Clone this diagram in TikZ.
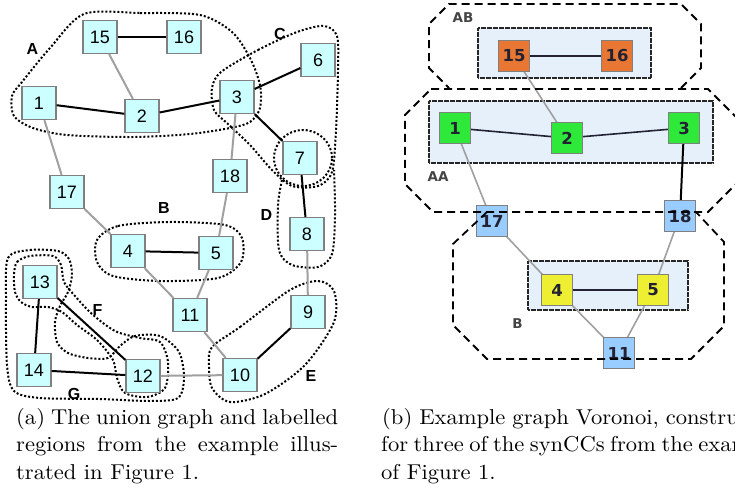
\documentclass[tikz,border=0pt]{standalone}
\usepackage{fontspec}
\newfontfamily\sansgraph{Liberation Sans}
\newfontfamily\dvsans{DejaVu Sans}
\newfontfamily\capfont{lmroman10-regular}[Extension=.otf, FakeStretch=1.05]
\definecolor{cyanfill}{HTML}{CCFFFF}
\definecolor{boxgray}{HTML}{808080}
\definecolor{edgegray}{HTML}{A0A0A0}
\definecolor{orangefill}{HTML}{E87734}
\definecolor{greenfill}{HTML}{2EE83A}
\definecolor{yellowfill}{HTML}{EEEE33}
\definecolor{bluefill}{HTML}{99CCFF}
\definecolor{panelfill}{HTML}{E6F0FB}
\definecolor{inkdark}{HTML}{222233}
\definecolor{labelgray}{HTML}{444444}
\tikzset{
  unode/.style={draw=boxgray, line width=1.3pt, fill=cyanfill, minimum width=34pt,
    minimum height=33pt, inner sep=0pt, font=\sansgraph\fontsize{18}{18}\selectfont},
  vnode/.style={draw=boxgray, line width=1pt, minimum size=31pt, inner sep=0pt,
    text=inkdark, font=\dvsans\bfseries\fontsize{16.5}{16.5}\selectfont},
  strong/.style={line width=2pt, black},
  weak/.style={line width=2pt, edgegray},
  vstrong/.style={line width=1.6pt, inkdark},
  vweak/.style={line width=1.6pt, edgegray},
  region/.style={line width=2pt, dash pattern=on 2pt off 2pt},
  regionlabel/.style={font=\sansgraph\bfseries\fontsize{16}{16}\selectfont, inner sep=0pt},
  celllabel/.style={font=\dvsans\bfseries\fontsize{13.5}{13.5}\selectfont, text=labelgray, inner sep=0pt},
  synbox/.style={fill=panelfill, draw=black!85, line width=1.6pt, dash pattern=on 0.7pt off 0.5pt},
  cell/.style={line width=1.8pt, dash pattern=on 8pt off 5pt},
  capline/.style={anchor=base west, inner sep=0pt, font=\capfont\fontsize{21.5}{26}\selectfont}
}
\begin{document}
\begin{tikzpicture}[x=1pt,y=-1pt]
\useasboundingbox (0,0) rectangle (735,487);

% ---------------- (a) union graph with labelled regions ----------------
% region outlines
\draw[region] plot[smooth cycle] coordinates {(84,14) (140,13) (200,15) (232,32) (250,58) (260,85)
  (260,108) (250,122) (230,128) (190,134) (133,137) (67,135) (33,128) (14,116) (12,96) (22,82) (50,48)};
\draw[region] plot[smooth cycle] coordinates {(221,72) (258,50) (297,32) (324,26) (337,36) (338,70)
  (336,130) (332,172) (318,186) (292,186) (272,170) (250,145) (228,124) (214,110) (212,88)};
\draw[region] (303,158) ellipse [x radius=29pt, y radius=28pt];
\draw[region] plot[smooth] coordinates {(282,180) (278,205) (279,250) (292,265) (318,267) (332,254)
  (335,215) (334,170)};
\draw[region] plot[smooth cycle] coordinates {(97,240) (118,226) (170,222) (225,225) (242,238)
  (241,262) (218,278) (160,281) (113,276) (97,262)};
\draw[region] plot[smooth cycle] coordinates {(212,347) (240,327) (290,290) (318,281) (334,291)
  (334,322) (305,365) (265,394) (230,402) (212,388) (209,365)};
% F: band along the edge 13--12
\draw[region] plot[smooth cycle] coordinates {(14,275) (17,262) (30,256) (53,256) (61,265) (64,282)
  (75,296) (92,314) (115,331) (140,338) (160,342) (168,362) (165,388) (147,397) (125,393)
  (117,378) (113,360) (97,340) (77,325) (62,312) (48,307) (32,307) (21,302) (15,292)};
% G: path 13--14--12
\draw[region] plot[smooth cycle] coordinates {(8,258) (30,250) (58,251) (69,259) (72,275) (68,292)
  (60,306) (55,322) (57,342) (68,353) (88,358) (108,358) (120,346) (135,336) (160,336) (179,352)
  (184,378) (178,398) (150,401) (100,399) (40,398) (14,391) (7,365) (6,300)};

% nodes
\node[unode] (u15) at (100,37) {15};
\node[unode] (u16) at (184,37) {16};
\node[unode] (u1) at (39,103) {1};
\node[unode] (u2) at (142,116) {2};
\node[unode] (u3) at (237,97) {3};
\node[unode] (u6) at (318,60) {6};
\node[unode] (u7) at (300,158) {7};
\node[unode] (u18) at (230,176) {18};
\node[unode] (u17) at (67,192) {17};
\node[unode] (u4) at (128,251) {4};
\node[unode] (u5) at (216,253) {5};
\node[unode] (u8) at (307,234) {8};
\node[unode] (u13) at (40,282) {13};
\node[unode] (u11) at (190,315) {11};
\node[unode] (u9) at (308,312) {9};
\node[unode] (u14) at (34,370) {14};
\node[unode] (u12) at (143,376) {12};
\node[unode] (u10) at (240,375) {10};

% edges
\draw[strong] (u15) -- (u16);
\draw[strong] (u1) -- (u2);
\draw[strong] (u2) -- (u3);
\draw[strong] (u3) -- (u6);
\draw[strong] (u3) -- (u7);
\draw[strong] (u7) -- (u8);
\draw[strong] (u4) -- (u5);
\draw[strong] (u13) -- (u14);
\draw[strong] (u13) -- (u12);
\draw[strong] (u14) -- (u12);
\draw[strong] (u9) -- (u10);
\draw[weak] (u15) -- (u2);
\draw[weak] (u1) -- (u17);
\draw[weak] (u17) -- (u4);
\draw[weak] (u3) -- (u18);
\draw[weak] (u18) -- (u5);
\draw[weak] (u4) -- (u11);
\draw[weak] (u5) -- (u11);
\draw[weak] (u11) -- (u10);
\draw[weak] (u8) -- (u9);
\draw[weak] (u12) -- (u10);

% region names
\node[regionlabel] (labA) at (32.5,48.5) {A};
\node[regionlabel] (labC) at (280,34) {C};
\node[regionlabel] (labB) at (164,207.5) {B};
\node[regionlabel] (labD) at (266.5,214.5) {D};
\node[regionlabel] (labF) at (97.5,309.5) {F};
\node[regionlabel] (labE) at (311,375.5) {E};
\node[regionlabel] (labG) at (74,394) {G};

% ---------------- (b) graph Voronoi of three synCCs ----------------
\draw[synbox] (478,28) rectangle (651,78);
\draw[synbox] (429,101) rectangle (713,163);
\draw[synbox] (528,261) rectangle (688,310);

\coordinate (p15) at (514,56);
\coordinate (p16) at (617,56);
\coordinate (p1) at (455,128);
\coordinate (p2) at (567,138);
\coordinate (p3) at (684,128);
\coordinate (p17) at (492,221);
\coordinate (p18) at (680,216);
\coordinate (p4) at (557,290);
\coordinate (p5) at (653,290);
\coordinate (p11) at (619,353);

\draw[vweak] (p15) -- (p2);
\draw[vweak] (p1) -- (p17);
\draw[vweak] (p17) -- (p4);
\draw[vweak] (p18) -- (p5);
\draw[vweak] (p4) -- (p11);
\draw[vweak] (p5) -- (p11);
\draw[vstrong] (p15) -- (p16);
\draw[vstrong] (p1) -- (p2);
\draw[vstrong] (p2) -- (p3);
\draw[vstrong] (p4) -- (p5);
\draw[line width=2pt, black] (p3) -- (p18);

\node[vnode, fill=orangefill] (v15) at (p15) {15};
\node[vnode, fill=orangefill] (v16) at (p16) {16};
\node[vnode, fill=greenfill] (v1) at (p1) {1};
\node[vnode, fill=greenfill] (v2) at (p2) {2};
\node[vnode, fill=greenfill] (v3) at (p3) {3};
\node[vnode, fill=bluefill] (v17) at (p17) {17};
\node[vnode, fill=bluefill] (v18) at (p18) {18};
\node[vnode, fill=yellowfill] (v4) at (p4) {4};
\node[vnode, fill=yellowfill] (v5) at (p5) {5};
\node[vnode, fill=bluefill] (v11) at (p11) {11};

% Voronoi cells (dashed)
\draw[cell] (681,88) -- (701,68) -- (701,24) -- (681,4) -- (449,4) -- (429,24) -- (429,68) -- (449,88);
\draw[cell] (431,89) -- (708,89) -- (736,117) -- (736,184) -- (708,212) -- (433,212) -- (405,184) -- (405,115) -- cycle;
\draw[cell] (487,212) -- (453,244) -- (453,325) -- (487,359) -- (691,359) -- (724,326) -- (724,242) -- (696,212);

\node[celllabel] (labAB) at (463,18) {AB};
\node[celllabel] (labAA) at (438,177) {AA};
\node[celllabel] (labBB) at (517.5,324) {B};

% ---------------- captions ----------------
\node[capline] (ca1) at (16,424) {\makebox[322pt][s]{(a) The union graph and labelled}};
\node[capline] (ca2) at (16,451.5) {\makebox[322pt][s]{regions from the example illus-}};
\node[capline] (ca3) at (16,479) {trated in Figure 1.};
\node[capline] (cb1) at (382,424) {\makebox[398pt][s]{(b) Example graph Voronoi, constructed}};
\node[capline] (cb2) at (381,451.5) {\makebox[398pt][s]{for three of the synCCs from the example}};
\node[capline] (cb3) at (381,479) {of Figure 1.};
\end{tikzpicture}
\end{document}
